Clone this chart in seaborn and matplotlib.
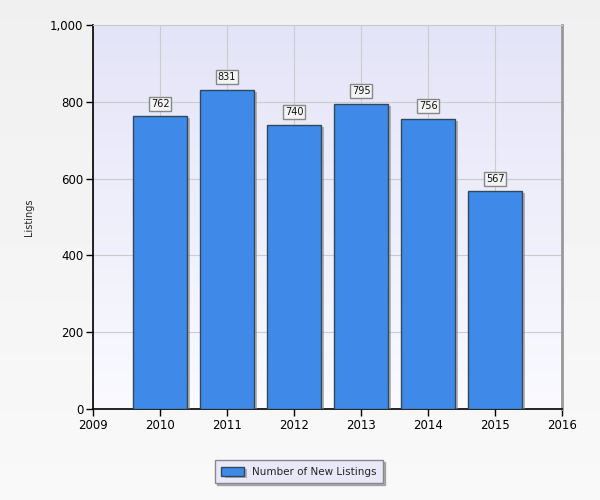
import numpy as np
import pandas as pd
import matplotlib
matplotlib.use('Agg')
import matplotlib.pyplot as plt
import matplotlib.patheffects as pe
from matplotlib.ticker import FuncFormatter
import seaborn as sns

years = [2010, 2011, 2012, 2013, 2014, 2015]
listings = [762, 831, 740, 795, 756, 567]
series_name = 'Number of New Listings'

sns.set_style('white')
plt.rcParams['font.family'] = ['DejaVu Sans']

df = pd.DataFrame({'year': years, 'listings': listings})

fig = plt.figure(figsize=(6, 5), dpi=100)

# figure background gradient
bg = fig.add_axes([0, 0, 1, 1], zorder=-10)
bg.imshow(np.linspace(0.94, 0.975, 100).reshape(-1, 1), cmap='gray', vmin=0, vmax=1,
          aspect='auto', extent=[0, 1, 0, 1])
bg.axis('off')

ax = fig.add_axes([0.155, 0.182, 0.782, 0.768])

# plot area gradient (lavender at top to near white at bottom)
grad = np.linspace(0, 1, 256).reshape(-1, 1)
cmap = matplotlib.colors.LinearSegmentedColormap.from_list('bgp', ['#e4e4f8', '#fafaff'])
ax.imshow(grad, cmap=cmap, aspect='auto', extent=[2009, 2016, 0, 1000], origin='upper', zorder=0)

sns.barplot(data=df, x='year', y='listings', native_scale=True, color='#3f8ae8',
            saturation=1, edgecolor='#2e4a5a', linewidth=1, width=0.8,
            label=series_name, ax=ax, zorder=3)

for p in ax.patches:
    p.set_path_effects([pe.SimplePatchShadow(offset=(2.5, -1.5), shadow_rgbFace='#888888', alpha=0.6),
                        pe.Normal()])

for x, v in zip(years, listings):
    ax.text(x, v + 20, f'{v}', ha='center', va='bottom', fontsize=7, color='#111111', zorder=5,
            bbox=dict(boxstyle='square,pad=0.2', fc='#f4f4f4', ec='#888888', lw=1))

ax.set_xlim(2009, 2016)
ax.set_ylim(0, 1000)
ax.set_xticks(range(2009, 2017))
ax.set_yticks(range(0, 1001, 200))
ax.yaxis.set_major_formatter(FuncFormatter(lambda v, _: f'{int(v):,}'))
ax.grid(True, color='#cccccc', lw=0.8, zorder=1)
ax.set_axisbelow(True)
ax.tick_params(axis='both', which='both', direction='out', length=5, width=1,
               labelsize=8.5, colors='black', bottom=True, left=True, pad=2)
ax.set_xlabel('')
ax.set_ylabel('Listings', fontsize=7)
ax.yaxis.set_label_coords(-0.125, 0.5)

for s in ['left', 'bottom']:
    ax.spines[s].set_color('black')
    ax.spines[s].set_linewidth(1.2)
for s in ['top']:
    ax.spines[s].set_color('#cccccc')
    ax.spines[s].set_linewidth(0.8)
ax.spines['right'].set_color('#999999')
ax.spines['right'].set_linewidth(2)

leg = ax.legend(loc='upper center', bbox_to_anchor=(0.439, -0.12), frameon=True, fancybox=False,
                fontsize=7.5, handlelength=2.2, handleheight=1.0, borderpad=0.6,
                shadow={'color': '#999999', 'alpha': 0.8, 'ox': 1.5, 'oy': -1.5})
leg.get_frame().set_facecolor('#e8e8f8')
leg.get_frame().set_edgecolor('#888888')
leg.get_frame().set_alpha(1)

fig.savefig('out.png', dpi=100)
